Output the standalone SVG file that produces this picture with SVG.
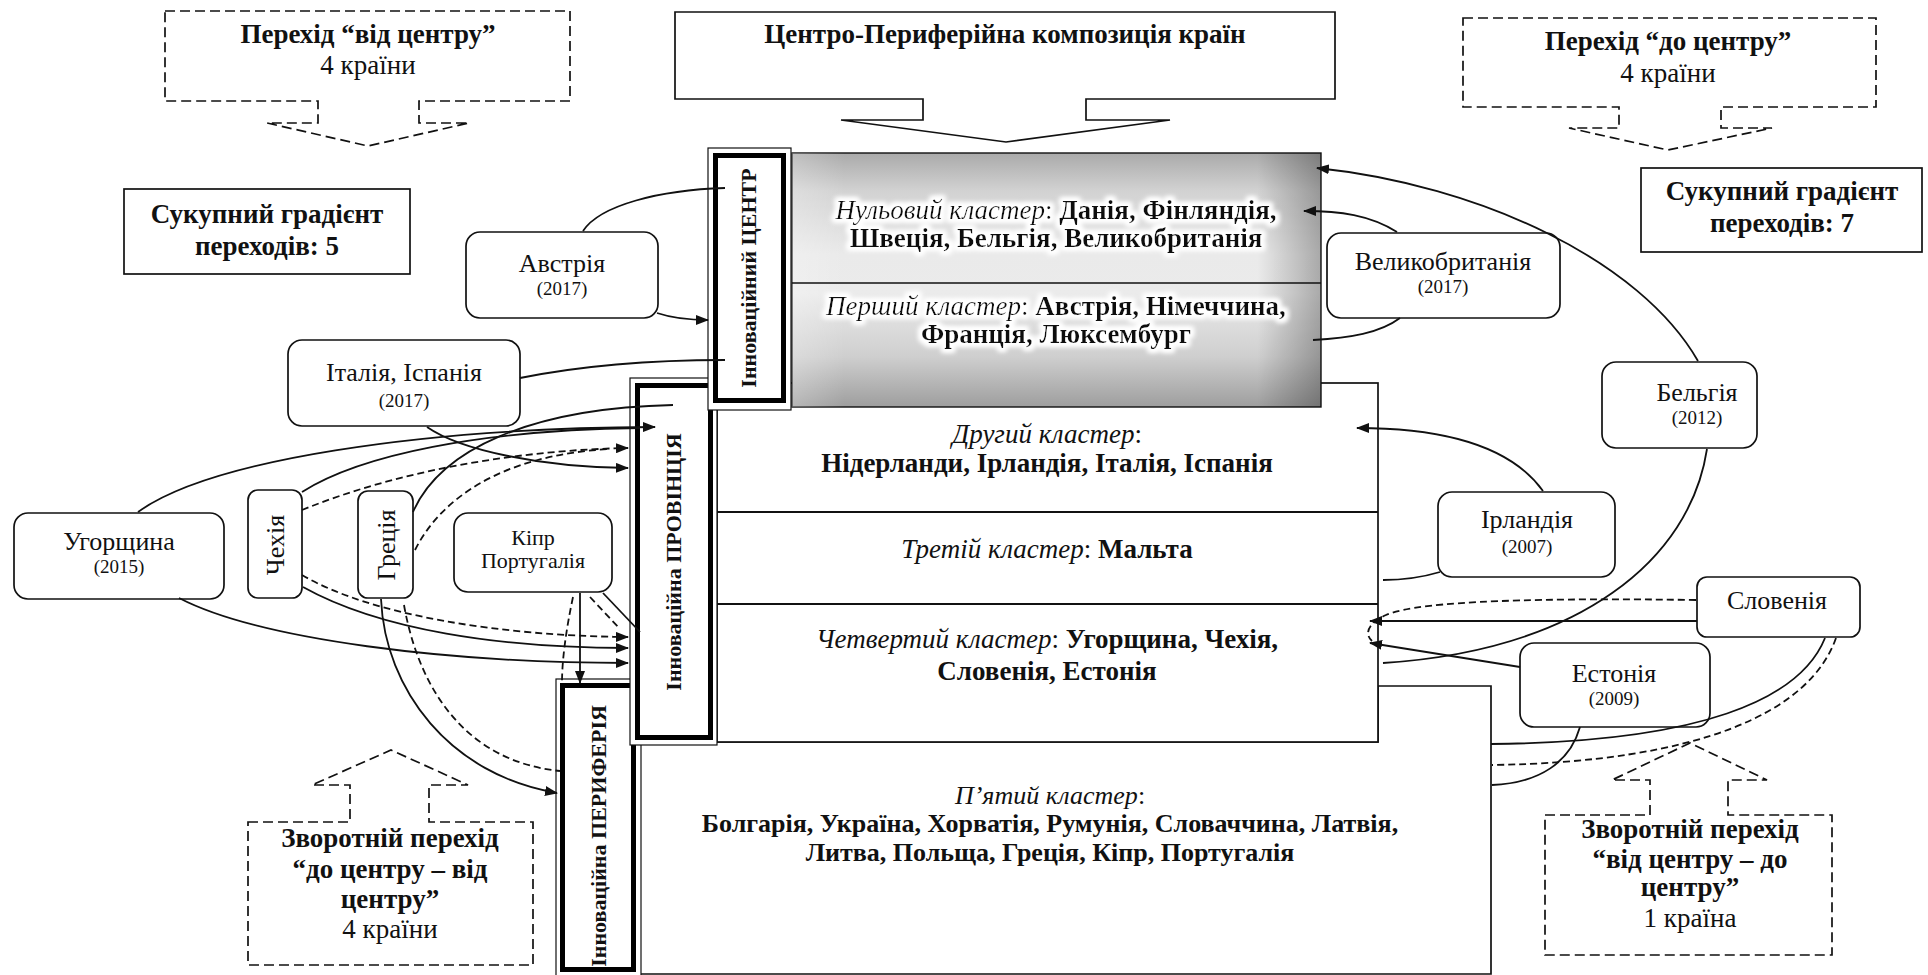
<svg xmlns="http://www.w3.org/2000/svg" width="1928" height="975" viewBox="0 0 1928 975">
  <defs>
    <style>
      text { font-family: "Liberation Serif", "Times New Roman", serif; fill: #111; }
      .t { font-size: 27px; text-anchor: middle; }
      .t5 { font-size: 26px; text-anchor: middle; }
      .b { font-weight: bold; }
      .i { font-style: italic; font-weight: normal; }
      .r { font-weight: normal; }
      .nm { font-size: 26px; text-anchor: middle; }
      .yr { font-size: 19px; text-anchor: middle; }
      .sm { font-size: 22px; text-anchor: middle; }
      .bar { font-size: 22px; font-weight: bold; text-anchor: middle; }
      .box { fill: #fff; stroke: #111; stroke-width: 1.7; }
      .dbox { fill: none; stroke: #111; stroke-width: 1.7; stroke-dasharray: 10 5; }
      .thin { fill: #fff; stroke: #111; stroke-width: 1.2; }
      .thick { fill: #fff; stroke: #000; stroke-width: 5; }
      .ln { fill: none; stroke: #111; stroke-width: 1.8; }
      .ln.d { stroke-dasharray: 7 4; }
      .arr { marker-end: url(#ah); }
    </style>
    <marker id="ah" viewBox="0 0 13 10" refX="12" refY="5" markerWidth="13" markerHeight="10" markerUnits="userSpaceOnUse" orient="auto">
      <path d="M0,0 L13,5 L0,10 z" fill="#111"/>
    </marker>
    <linearGradient id="gv" x1="0" y1="0" x2="0" y2="1">
      <stop offset="0" stop-color="#aaaaaa"/>
      <stop offset="0.15" stop-color="#d2d2d2"/>
      <stop offset="0.4" stop-color="#eaeaea"/>
      <stop offset="0.55" stop-color="#ebebeb"/>
      <stop offset="0.8" stop-color="#cfcfcf"/>
      <stop offset="1" stop-color="#9e9e9e"/>
    </linearGradient>
    <linearGradient id="gh" x1="0" y1="0" x2="1" y2="0">
      <stop offset="0" stop-color="#fff" stop-opacity="0.25"/>
      <stop offset="0.1" stop-color="#fff" stop-opacity="0"/>
      <stop offset="0.88" stop-color="#000" stop-opacity="0"/>
      <stop offset="1" stop-color="#000" stop-opacity="0.28"/>
    </linearGradient>
    <filter id="halo" x="-5%" y="-40%" width="110%" height="180%">
      <feMorphology in="SourceAlpha" operator="dilate" radius="3" result="d"/>
      <feGaussianBlur in="d" stdDeviation="2.5" result="b"/>
      <feFlood flood-color="#fff"/>
      <feComposite in2="b" operator="in" result="w"/>
      <feMerge><feMergeNode in="w"/><feMergeNode in="w"/><feMergeNode in="SourceGraphic"/></feMerge>
    </filter>
  </defs>

  <rect width="1928" height="975" fill="#fff"/>

  <!-- callouts -->
  <g id="callout-from-centre">
    <path class="dbox" d="M165,11 H570 V101 H419 V123 H469 L368,146 L267,123 H318 V101 H165 Z"/>
    <text class="t b" x="368" y="43">Перехід “від центру”</text>
    <text class="t r" x="368" y="74">4 країни</text>
  </g>
  <g id="callout-to-centre">
    <path class="dbox" d="M1463,18 H1876 V107 H1721 V128 H1772 L1668,150 L1569,128 H1619 V107 H1463 Z"/>
    <text class="t b" x="1668" y="50">Перехід “до центру”</text>
    <text class="t r" x="1668" y="82">4 країни</text>
  </g>
  <g id="title">
    <path class="box" d="M675,12 H1335 V99 H1086 V120 H1170 L1006,142 L841,120 H923 V99 H675 Z"/>
    <text class="t b" x="1005" y="43">Центро-Периферійна композиція країн</text>
  </g>
  <g id="gradient-left">
    <rect class="box" x="124" y="189" width="286" height="85"/>
    <text class="t b" x="267" y="223">Сукупний градієнт</text>
    <text class="t b" x="267" y="255">переходів: 5</text>
  </g>
  <g id="gradient-right">
    <rect class="box" x="1641" y="168" width="281" height="84"/>
    <text class="t b" x="1782" y="200">Сукупний градієнт</text>
    <text class="t b" x="1782" y="232">переходів: 7</text>
  </g>
  <g id="callout-back-left">
    <path class="dbox" d="M248,822 H350 V785 H312 L391,750 L468,785 H429 V822 H533 V965 H248 Z"/>
    <text class="t b" x="390" y="847">Зворотній перехід</text>
    <text class="t b" x="390" y="878">“до центру – від</text>
    <text class="t b" x="390" y="908">центру”</text>
    <text class="t r" x="390" y="938">4 країни</text>
  </g>
  <g id="callout-back-right">
    <path class="dbox" d="M1545,815 H1650 V780 H1612 L1690,743 L1767,780 H1728 V815 H1832 V955 H1545 Z"/>
    <text class="t b" x="1690" y="838">Зворотній перехід</text>
    <text class="t b" x="1690" y="868">“від центру – до</text>
    <text class="t b" x="1690" y="896">центру”</text>
    <text class="t r" x="1690" y="927">1 країна</text>
  </g>

  <!-- cluster blocks -->
  <g id="cluster-5">
    <path class="box" d="M640,742 H1378 V686 H1491 V974 H640 Z"/>
    <text class="t5" x="1050" y="804"><tspan class="i">П’ятий кластер</tspan><tspan class="r">:</tspan></text>
    <text class="t5 b" x="1050" y="832">Болгарія, Україна, Хорватія, Румунія, Словаччина, Латвія,</text>
    <text class="t5 b" x="1050" y="861">Литва, Польща, Греція, Кіпр, Португалія</text>
  </g>
  <g id="clusters-2-4">
    <rect class="box" x="717" y="383" width="661" height="359"/>
    <line class="ln" x1="717" y1="512" x2="1378" y2="512" stroke-width="1.4"/>
    <line class="ln" x1="717" y1="604" x2="1378" y2="604" stroke-width="1.4"/>
    <text class="t" x="1047" y="443"><tspan class="i">Другий кластер</tspan><tspan class="r">:</tspan></text>
    <text class="t b" x="1047" y="472">Нідерланди, Ірландія, Італія, Іспанія</text>
    <text class="t" x="1047" y="558"><tspan class="i">Третій кластер</tspan><tspan class="r">: </tspan><tspan class="b">Мальта</tspan></text>
    <text class="t" x="1047" y="648"><tspan class="i">Четвертий кластер</tspan><tspan class="r">: </tspan><tspan class="b">Угорщина, Чехія,</tspan></text>
    <text class="t b" x="1047" y="680">Словенія, Естонія</text>
  </g>
  <g id="clusters-0-1">
    <rect x="792" y="153" width="529" height="254" fill="url(#gv)" stroke="#111" stroke-width="1.4"/>
    <rect x="792" y="153" width="529" height="254" fill="url(#gh)"/>
    <line x1="792" y1="283" x2="1321" y2="283" stroke="#111" stroke-width="1.4"/>
    <g filter="url(#halo)">
      <text class="t" x="1056" y="219"><tspan class="i">Нульовий кластер</tspan><tspan class="r">: </tspan><tspan class="b">Данія, Фінляндія,</tspan></text>
      <text class="t b" x="1056" y="247">Швеція, Бельгія, Великобританія</text>
      <text class="t" x="1056" y="315"><tspan class="i">Перший кластер</tspan><tspan class="r">: </tspan><tspan class="b">Австрія, Німеччина,</tspan></text>
      <text class="t b" x="1056" y="343">Франція, Люксембург</text>
    </g>
  </g>

  <!-- zone bars -->
  <g id="bar-periphery">
    <rect class="thin" x="556" y="679" width="85" height="300"/>
    <rect class="thick" x="562.5" y="685.5" width="71" height="284"/>
    <text class="bar" transform="translate(606,836) rotate(-90)">Інноваційна ПЕРИФЕРІЯ</text>
  </g>
  <g id="bar-province">
    <rect class="thin" x="630" y="378" width="87" height="367"/>
    <rect class="thick" x="637.5" y="385.5" width="73" height="352"/>
    <text class="bar" transform="translate(681,562) rotate(-90)">Інноваційна ПРОВІНЦІЯ</text>
  </g>
  <g id="bar-centre">
    <rect class="thin" x="708" y="148" width="83" height="262"/>
    <rect class="thick" x="715.5" y="155.5" width="68" height="245"/>
    <text class="bar" transform="translate(756,278) rotate(-90)">Інноваційний ЦЕНТР</text>
  </g>

  <!-- countries -->
  <g id="austria">
    <rect class="box" x="466" y="232" width="192" height="86" rx="14"/>
    <text class="nm" x="562" y="272">Австрія</text>
    <text class="yr" x="562" y="295">(2017)</text>
  </g>
  <g id="italy-spain">
    <rect class="box" x="288" y="340" width="232" height="86" rx="14"/>
    <text class="nm" x="404" y="381">Італія, Іспанія</text>
    <text class="yr" x="404" y="407">(2017)</text>
  </g>
  <g id="hungary">
    <rect class="box" x="14" y="513" width="210" height="86" rx="14"/>
    <text class="nm" x="119" y="550">Угорщина</text>
    <text class="yr" x="119" y="573">(2015)</text>
  </g>
  <g id="czechia">
    <rect class="box" x="248" y="490" width="54" height="108" rx="10"/>
    <text class="nm" transform="translate(284,545) rotate(-90)">Чехія</text>
  </g>
  <g id="greece">
    <rect class="box" x="358" y="491" width="55" height="107" rx="10"/>
    <text class="nm" transform="translate(395,545) rotate(-90)">Греція</text>
  </g>
  <g id="cyprus-portugal">
    <rect class="box" x="454" y="513" width="158" height="79" rx="14"/>
    <text class="sm" x="533" y="545">Кіпр</text>
    <text class="sm" x="533" y="568">Португалія</text>
  </g>
  <g id="uk">
    <rect class="box" x="1327" y="233" width="233" height="85" rx="14"/>
    <text class="nm" x="1443" y="270">Великобританія</text>
    <text class="yr" x="1443" y="293">(2017)</text>
  </g>
  <g id="belgium">
    <rect class="box" x="1602" y="362" width="155" height="86" rx="14"/>
    <text class="nm" x="1697" y="401">Бельгія</text>
    <text class="yr" x="1697" y="424">(2012)</text>
  </g>
  <g id="ireland">
    <rect class="box" x="1438" y="492" width="177" height="85" rx="14"/>
    <text class="nm" x="1527" y="528">Ірландія</text>
    <text class="yr" x="1527" y="553">(2007)</text>
  </g>
  <g id="slovenia">
    <rect class="box" x="1697" y="577" width="163" height="60" rx="10"/>
    <text class="nm" x="1777" y="609">Словенія</text>
  </g>
  <g id="estonia">
    <rect class="box" x="1520" y="643" width="190" height="84" rx="14"/>
    <text class="nm" x="1614" y="682">Естонія</text>
    <text class="yr" x="1614" y="705">(2009)</text>
  </g>

  <!-- connectors -->
  <g id="connectors">
    <path class="ln" d="M583,231 C600,205 660,190 725,188"/>
    <path class="ln arr" d="M657,313 C672,318 690,320 708,320"/>
    <path class="ln" d="M520,378 C580,366 650,360 725,360"/>
    <path class="ln arr" d="M427,427 C460,450 540,467 628,468"/>
    <path class="ln arr" d="M138,512 C210,460 420,428 655,427"/>
    <path class="ln" d="M302,492 C360,455 480,430 640,428"/>
    <path class="ln" d="M413,512 C440,450 530,408 673,405"/>
    <path class="ln d arr" d="M302,510 C400,470 520,450 628,448"/>
    <path class="ln d" d="M415,550 C440,500 500,455 610,449"/>
    <path class="ln arr" d="M179,598 C260,640 450,663 628,663"/>
    <path class="ln arr" d="M303,587 C380,630 500,648 628,648"/>
    <path class="ln d arr" d="M302,575 C370,615 500,636 628,637"/>
    <path class="ln arr" d="M381,599 C385,690 450,775 557,793"/>
    <path class="ln d" d="M404,605 C420,695 470,762 560,771"/>
    <path class="ln arr" d="M580,593 L580,683"/>
    <path class="ln d" d="M573,597 C566,630 562,660 562,683"/>
    <path class="ln d" d="M590,597 L620,629"/>
    <path class="ln" d="M603,593 L640,632"/>

    <path class="ln arr" d="M1698,361 C1640,260 1480,185 1317,168"/>
    <path class="ln arr" d="M1397,232 C1370,215 1340,211 1304,211"/>
    <path class="ln" d="M1400,318 C1380,333 1350,338 1313,340"/>
    <path class="ln arr" d="M1543,491 C1510,445 1440,428 1357,428"/>
    <path class="ln" d="M1440,572 C1420,578 1400,580 1383,580"/>
    <path class="ln" d="M1707,449 C1690,560 1580,650 1383,663"/>
    <path class="ln arr" d="M1697,621 L1370,621"/>
    <path class="ln arr" d="M1520,667 L1370,643"/>
    <path class="ln d" d="M1696,600 C1550,598 1420,600 1386,615 C1368,623 1364,634 1372,641"/>
    <path class="ln" d="M1580,727 C1570,762 1540,783 1492,785"/>
    <path class="ln" d="M1825,638 C1800,700 1700,742 1491,744"/>
    <path class="ln d" d="M1836,638 C1810,712 1700,762 1492,765"/>
  </g>
</svg>
